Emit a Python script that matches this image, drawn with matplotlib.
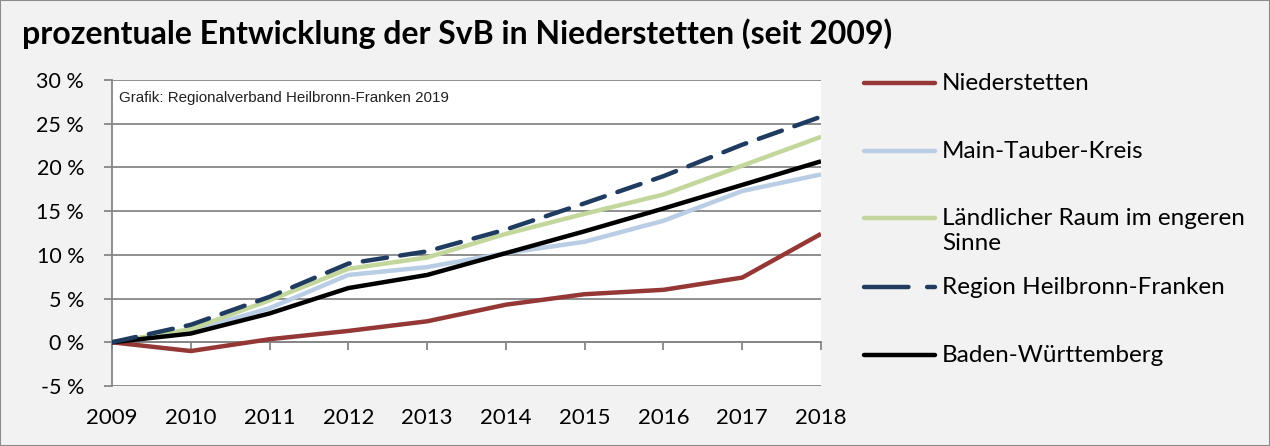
import matplotlib
matplotlib.use("Agg")
import matplotlib.pyplot as plt
from matplotlib.lines import Line2D
from matplotlib.patches import Rectangle

years = [2009, 2010, 2011, 2012, 2013, 2014, 2015, 2016, 2017, 2018]
year_labels = [str(y) for y in years]

niederstetten = [0, -1.0, 0.35, 1.3, 2.4, 4.3, 5.5, 6.0, 7.4, 12.4]
main_tauber = [0, 1.3, 3.9, 7.7, 8.6, 10.2, 11.5, 13.9, 17.3, 19.2]
laendlich = [0, 1.5, 4.8, 8.4, 9.7, 12.4, 14.7, 16.9, 20.2, 23.5]
region_hnf = [0, 2.0, 5.2, 9.0, 10.4, 12.9, 15.9, 19.0, 22.6, 25.8]
bawue = [0, 1.0, 3.3, 6.2, 7.7, 10.2, 12.7, 15.3, 18.0, 20.7]

series_names = ["Niederstetten", "Main-Tauber-Kreis", "Ländlicher Raum im engeren\nSinne",
                "Region Heilbronn-Franken", "Baden-Württemberg"]
y_ticks = [-5, 0, 5, 10, 15, 20, 25, 30]
y_tick_labels = [f"{v} %" for v in y_ticks]

title = "prozentuale Entwicklung der SvB in Niederstetten (seit 2009)"
source = "Grafik: Regionalverband Heilbronn-Franken 2019"

c_red = "#953735"
c_lblue = "#b9cde5"
c_green = "#c3d69b"
c_navy = "#1f3b60"
c_black = "#000000"
grid_c = "#868686"

W, H = 1270, 446
fig = plt.figure(figsize=(W / 100, H / 100), dpi=100, facecolor="#f2f2f2")
fig.patches.append(Rectangle((0, 0), 1, 1, transform=fig.transFigure, fill=False,
                             edgecolor="#8c8c8c", lw=1.5))

left, right, top, bottom = 112, 821, 80, 386
ax = fig.add_axes([left / W, 1 - bottom / H, (right - left) / W, (bottom - top) / H])
ax.set_facecolor("white")

font = ["Lato", "DejaVu Sans"]

lw = 3.2
ax.plot(years, niederstetten, color=c_red, lw=lw, solid_capstyle="butt", zorder=5)
ax.plot(years, main_tauber, color=c_lblue, lw=lw, solid_capstyle="butt", zorder=3)
ax.plot(years, laendlich, color=c_green, lw=lw, solid_capstyle="butt", zorder=4)
ax.plot(years, region_hnf, color=c_navy, lw=lw, dashes=(5.5, 3.0), dash_capstyle="round", zorder=6)
ax.plot(years, bawue, color=c_black, lw=lw, solid_capstyle="butt", zorder=5)

ax.set_xlim(years[0], years[-1])
ax.set_ylim(-5, 30)
ax.set_yticks(y_ticks)
ax.set_yticklabels(y_tick_labels, fontfamily=font, fontsize=15.5)
ax.yaxis.grid(True, color=grid_c, lw=1.3, zorder=1)
ax.set_axisbelow(True)

for s in ["top", "right"]:
    ax.spines[s].set_visible(False)
ax.spines["left"].set_color(grid_c)
ax.spines["left"].set_linewidth(1.3)
ax.spines["bottom"].set_position(("data", 0))
ax.spines["bottom"].set_color(grid_c)
ax.spines["bottom"].set_linewidth(1.3)
ax.spines["bottom"].set_zorder(2)

ax.set_xticks(years)
ax.set_xticklabels(year_labels, fontfamily=font, fontsize=16)
ax.tick_params(axis="x", direction="out", length=6, width=1.3, color=grid_c, pad=41)
ax.tick_params(axis="y", direction="out", length=6, width=1.3, color=grid_c, pad=14)

ax.text(0.01, 0.94, source, transform=ax.transAxes, fontsize=10.9,
        fontfamily="Liberation Sans", color="#222222", va="center", ha="left")

fig.text(22 / W, 1 - 34 / H, title, fontsize=23, fontweight="bold",
         fontfamily=font, va="center", ha="left")

# legend
leg_y = [83, 151, 218, 287, 355]
styles = [dict(color=c_red, solid_capstyle="round"), dict(color=c_lblue, solid_capstyle="round"),
          dict(color=c_green, solid_capstyle="round"),
          dict(color=c_navy, dashes=(10.0, 4.2), dash_capstyle="round"),
          dict(color=c_black, solid_capstyle="round")]
for name, yy, st in zip(series_names, leg_y, styles):
    yf = 1 - yy / H
    fig.add_artist(Line2D([864 / W, 935 / W], [yf, yf], lw=lw, transform=fig.transFigure, **st))
    for i, part in enumerate(name.split("\n")):
        fig.text(942 / W, 1 - (yy + 25 * i) / H, part, fontsize=17.5, fontfamily=font,
                 va="center", ha="left")

fig.savefig("out.png", dpi=100, facecolor=fig.get_facecolor())
